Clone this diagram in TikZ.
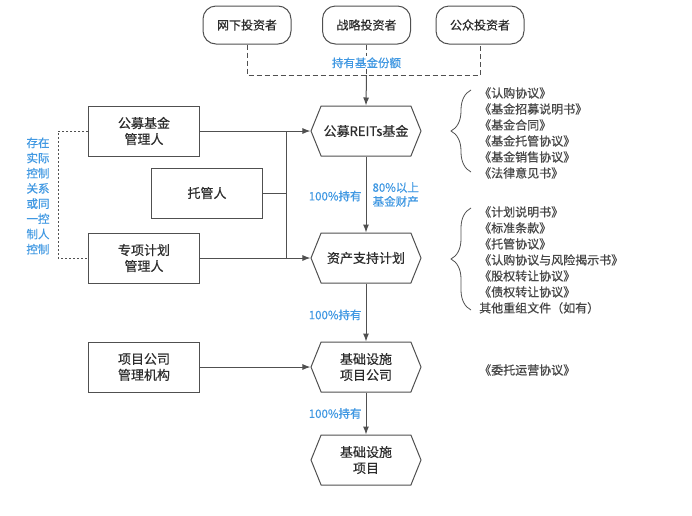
\documentclass[tikz,border=0pt]{standalone}
\usepackage{fontspec}
\setmainfont{Noto Sans CJK SC}[FakeBold=0.6]
\usetikzlibrary{arrows.meta,shapes.symbols,decorations.pathreplacing}
\definecolor{linegray}{RGB}{80,80,80}
\definecolor{txtgray}{RGB}{45,45,45}
\definecolor{doctxt}{RGB}{70,70,70}
\definecolor{lblue}{RGB}{64,152,226}

\begin{document}
\begin{tikzpicture}[
  x=1pt, y=-1pt,
  font=\fontsize{13}{16}\selectfont,
  text=txtgray,
  inv/.style={draw=linegray, line width=1pt, rounded corners=13pt, minimum width=88pt,
              minimum height=38pt, font=\fontsize{12}{14}\selectfont},
  party/.style={draw=linegray, line width=1pt, minimum width=111pt, minimum height=50pt,
                align=center, inner sep=2pt},
  vehicle/.style={draw=linegray, line width=1pt, signal, signal to=east and west,
                  signal pointer angle=136, minimum width=110pt, minimum height=50pt,
                  align=center, inner sep=2pt},
  arr/.style={-{Latex[length=8pt, width=6pt]}, line width=1pt, draw=linegray},
  link/.style={line width=1pt, draw=linegray},
  share/.style={line width=1pt, draw=linegray, dash pattern=on 5pt off 3pt},
  ctrl/.style={line width=1pt, draw=linegray, dash pattern=on 2pt off 2pt},
  lab/.style={font=\fontsize{11.5}{14}\selectfont, text=lblue, inner sep=1pt, align=center},
  docs/.style={font=\fontsize{12}{16}\selectfont, text=doctxt, align=left, anchor=west, inner sep=0pt},
  brc/.style={decorate, decoration={brace, amplitude=20pt}, line width=0.8pt, draw=linegray}
]
\useasboundingbox (0,0) rectangle (692,515);

% ---------------- investors ----------------
\node[inv] (offline) at (247,25) {网下投资者};
\node[inv] (strategic) at (366.5,25) {战略投资者};
\node[inv] (public) at (480,25) {公众投资者};

% ---------------- vehicles ----------------
\node[vehicle] (reits) at (366,131) {公募REITs基金};
\node[vehicle] (abs) at (366,258) {资产支持计划};
\node[vehicle] (infraco) at (366,367) {基础设施\\项目公司};
\node[vehicle] (infra) at (366,460) {基础设施\\项目};

% ---------------- parties ----------------
\node[party] (fundmgr) at (144,131) {公募基金\\管理人};
\node[party] (custodian) at (207,193) {托管人};
\node[party] (planmgr) at (144,258) {专项计划\\管理人};
\node[party] (opco) at (144,367) {项目公司\\管理机构};

% ---------------- fund shares ----------------
\coordinate (hub) at (366.5,75);
\draw[share] (offline.south) |- (hub) -| (public.south);
\draw[share] (strategic.south) -- node[lab, fill=white, pos=0.6] {持有基金份额} (hub);
\draw[arr] (hub) -- (reits.north);

% ---------------- management ----------------
\coordinate (bus) at (286,131);
\draw[arr] (fundmgr.east) -- (reits.west);
\draw[link] (bus) -- (bus |- planmgr.east);
\draw[link] (custodian.east) -- (custodian.east -| bus);
\draw[arr] (planmgr.east) -- (abs.west);
\draw[arr] (opco.east) -- (infraco.west);

% ---------------- holding chain ----------------
\draw[arr] (reits.south) -- node[lab, left=3pt, pos=0.52] {100\%持有}
  node[lab, right=5pt, pos=0.5] {80\%以上\\基金财产} (abs.north);
\draw[arr] (abs.south) -- node[lab, left=3pt, pos=0.54] {100\%持有} (infraco.north);
\draw[arr] (infraco.south) -- node[lab, left=3pt, pos=0.5] {100\%持有} (infra.north);

% ---------------- control relation ----------------
\draw[ctrl] (fundmgr.west) -- ++(-30,0) |- (planmgr.west);
\node[lab, font=\fontsize{11.5}{15.2}\selectfont] (ctrltxt) at (38,196)
  {存在\\实际\\控制\\关系\\或同\\一控\\制人\\控制};

% ---------------- documents ----------------
\node[docs] (funddocs) at (479,133)
  {《认购协议》\\《基金招募说明书》\\《基金合同》\\《基金托管协议》\\《基金销售协议》\\《法律意见书》};
\node[docs] (plandocs) at (479,260)
  {《计划说明书》\\《标准条款》\\《托管协议》\\《认购协议与风险揭示书》\\《股权转让协议》\\《债权转让协议》\\其他重组文件（如有）};
\node[docs] (opdocs) at (479,370) {《委托运营协议》};

\draw[brc] (471,172) -- (471,90);
\draw[brc] (471,310) -- (471,208);

\end{tikzpicture}
\end{document}
